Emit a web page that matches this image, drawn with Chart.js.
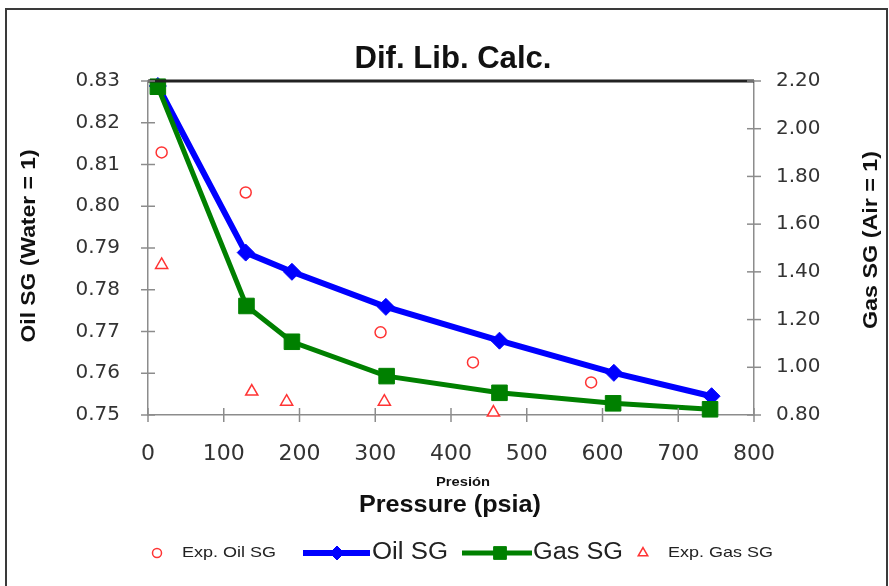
<!DOCTYPE html>
<html>
<head>
<meta charset="utf-8">
<script src="https://cdn.jsdelivr.net/npm/chart.js@4.4.1/dist/chart.umd.min.js"></script>
<style>
html, body { margin: 0; padding: 0; background: #fff; }
canvas { display: block; }
</style>
</head>
<body>
<canvas id="chart" width="889" height="586"></canvas>
<script>
/* data */
const pressOil = [13, 129, 190, 314, 464, 615, 744];
const oilSG = [0.8288, 0.7889, 0.7843, 0.7759, 0.7678, 0.7601, 0.7545];

const pressGas = [13, 130, 190, 315, 464, 614, 742];
const gasSG = [2.176, 1.257, 1.107, 0.963, 0.893, 0.849, 0.824];

const pressExpOil = [18, 129, 307, 429, 585];
const expOilSG = [0.8129, 0.8033, 0.7698, 0.7626, 0.7578];

const pressExpGas = [18, 137, 183, 312, 456];
const expGasSG = [1.429, 0.898, 0.856, 0.856, 0.810];

/* axis ranges */
const xRange = [0, 800, 100];
const oilRange = [0.75, 0.83, 0.01];
const gasRange = [0.80, 2.20, 0.20];

const RED = "#ff3333";
const BLUE = "#0000ff";
const GREEN = "#008000";
const TICK_FONT = '"DejaVu Sans", sans-serif';
const TXT_FONT = '"Liberation Sans", Arial, sans-serif';

function pts(xs, ys) {
  return xs.map((x, i) => ({ x: x, y: ys[i] }));
}

/* text squeezed / stretched to a given width */
function fitText(ctx, text, x, y, font, width, rot, align) {
  ctx.save();
  ctx.font = font;
  ctx.translate(x, y);
  if (rot) ctx.rotate(rot);
  const w = ctx.measureText(text).width;
  ctx.scale(width / w, 1);
  ctx.textAlign = align || "center";
  ctx.textBaseline = "middle";
  ctx.fillText(text, 0, 0);
  ctx.restore();
}

const decor = {
  id: "decor",
  afterDraw(chart) {
    const ctx = chart.ctx;
    const a = chart.chartArea;

    /* outer frame */
    ctx.save();
    ctx.strokeStyle = "#3a3a3a";
    ctx.lineWidth = 2;
    ctx.strokeRect(6, 9, 881, 600);

    /* dark top edge of plot */
    ctx.strokeStyle = "#222";
    ctx.lineWidth = 3;
    ctx.beginPath();
    ctx.moveTo(a.left, a.top);
    ctx.lineTo(a.right, a.top);
    ctx.stroke();

    /* tick marks crossing the axes */
    ctx.strokeStyle = "#8c8c8c";
    ctx.lineWidth = 1.5;
    ["x", "y", "y2"].forEach(id => {
      const s = chart.scales[id];
      s.ticks.forEach(t => {
        const p = s.getPixelForValue(t.value);
        ctx.beginPath();
        if (id === "x") {
          ctx.moveTo(p, a.bottom - 7);
          ctx.lineTo(p, a.bottom + 7);
        } else {
          const ax = id === "y" ? a.left : a.right;
          ctx.moveTo(ax - 7, p);
          ctx.lineTo(ax + 7, p);
        }
        ctx.stroke();
      });
    });

    /* titles */
    ctx.fillStyle = "#111";
    fitText(ctx, "Dif. Lib. Calc.", 453, 59, "bold 31px " + TXT_FONT, 197);
    fitText(ctx, "Oil SG (Water = 1)", 29, 246, "bold 21px " + TXT_FONT, 193, -Math.PI / 2);
    fitText(ctx, "Gas SG (Air = 1)", 871, 240, "bold 21px " + TXT_FONT, 178, -Math.PI / 2);
    fitText(ctx, "Presión", 463, 482, "bold 13px " + TXT_FONT, 54);
    fitText(ctx, "Pressure (psia)", 450, 505, "bold 24px " + TXT_FONT, 182);

    /* legend */
    const ly = 553;
    const legendPos = [
      { mx: 157, tx: 182, tw: 94, r: 4.5 },
      { l0: 303, l1: 370, mx: 337, tx: 372, tw: 76, r: 7 },
      { l0: 462, l1: 532, mx: 500, tx: 533, tw: 90, r: 9 },
      { mx: 643, tx: 668, tw: 105, r: 5.5 }
    ];
    chart.data.datasets.forEach((ds, i) => {
      const p = legendPos[i];
      ctx.strokeStyle = ds.borderColor;
      ctx.fillStyle = ds.pointBackgroundColor;
      if (ds.showLine) {
        ctx.lineWidth = ds.borderWidth;
        ctx.beginPath();
        ctx.moveTo(p.l0, ly);
        ctx.lineTo(p.l1, ly);
        ctx.stroke();
      }
      ctx.lineWidth = ds.pointBorderWidth;
      Chart.helpers.drawPoint(ctx, {
        pointStyle: ds.pointStyle, radius: p.r,
        borderWidth: ds.pointBorderWidth, rotation: 0
      }, p.mx, ly);
      ctx.fillStyle = "#222";
      const font = ds.showLine ? "23px " + TXT_FONT : "15px " + TXT_FONT;
      fitText(ctx, ds.label, p.tx, ly, font, p.tw, 0, "left");
    });
    ctx.restore();
  }
};

const axisBorder = { display: true, color: "#8c8c8c", width: 1.5 };
const noGrid = { display: false, drawTicks: false };

new Chart(document.getElementById("chart"), {
  type: "line",
  data: {
    datasets: [
      {
        label: "Exp. Oil SG",
        data: pts(pressExpOil, expOilSG),
        yAxisID: "y",
        showLine: false,
        pointStyle: "circle",
        pointRadius: 5.5,
        pointBorderWidth: 1.5,
        borderColor: RED,
        pointBorderColor: RED,
        pointBackgroundColor: "#fff",
        order: 0
      },
      {
        label: "Oil SG",
        data: pts(pressOil, oilSG),
        yAxisID: "y",
        showLine: true,
        borderColor: BLUE,
        borderWidth: 6,
        pointStyle: "rectRot",
        pointRadius: 8.5,
        pointBorderWidth: 1,
        pointBorderColor: BLUE,
        pointBackgroundColor: BLUE,
        tension: 0,
        order: 2
      },
      {
        label: "Gas SG",
        data: pts(pressGas, gasSG),
        yAxisID: "y2",
        showLine: true,
        borderColor: GREEN,
        borderWidth: 5,
        pointStyle: "rect",
        pointRadius: 11,
        pointBorderWidth: 1,
        pointBorderColor: GREEN,
        pointBackgroundColor: GREEN,
        tension: 0,
        order: 1
      },
      {
        label: "Exp. Gas SG",
        data: pts(pressExpGas, expGasSG),
        yAxisID: "y2",
        showLine: false,
        pointStyle: "triangle",
        pointRadius: 7,
        pointBorderWidth: 1.5,
        borderColor: RED,
        pointBorderColor: RED,
        pointBackgroundColor: "#fff",
        order: 0
      }
    ]
  },
  options: {
    responsive: false,
    animation: false,
    devicePixelRatio: 1,
    clip: false,
    layout: { padding: { top: 81, left: 0, right: 0, bottom: 0 } },
    plugins: {
      legend: { display: false },
      title: { display: false },
      tooltip: { enabled: false }
    },
    scales: {
      x: {
        type: "linear",
        min: xRange[0], max: xRange[1],
        ticks: {
          stepSize: xRange[2],
          color: "#333",
          font: { family: TICK_FONT, size: 22 },
          padding: 26
        },
        grid: noGrid,
        border: axisBorder,
        afterFit(s) { s.height = 171; }
      },
      y: {
        position: "left",
        min: oilRange[0], max: oilRange[1],
        ticks: {
          stepSize: oilRange[2],
          color: "#333",
          font: { family: TICK_FONT, size: 20 },
          padding: 28,
          callback: v => v.toFixed(2)
        },
        grid: noGrid,
        border: axisBorder,
        afterFit(s) { s.width = 148; }
      },
      y2: {
        position: "right",
        min: gasRange[0], max: gasRange[1],
        ticks: {
          stepSize: gasRange[2],
          color: "#333",
          font: { family: TICK_FONT, size: 20 },
          padding: 22,
          callback: v => v.toFixed(2)
        },
        grid: noGrid,
        border: axisBorder,
        afterFit(s) { s.width = 135; }
      }
    }
  },
  plugins: [decor]
});
</script>
</body>
</html>
